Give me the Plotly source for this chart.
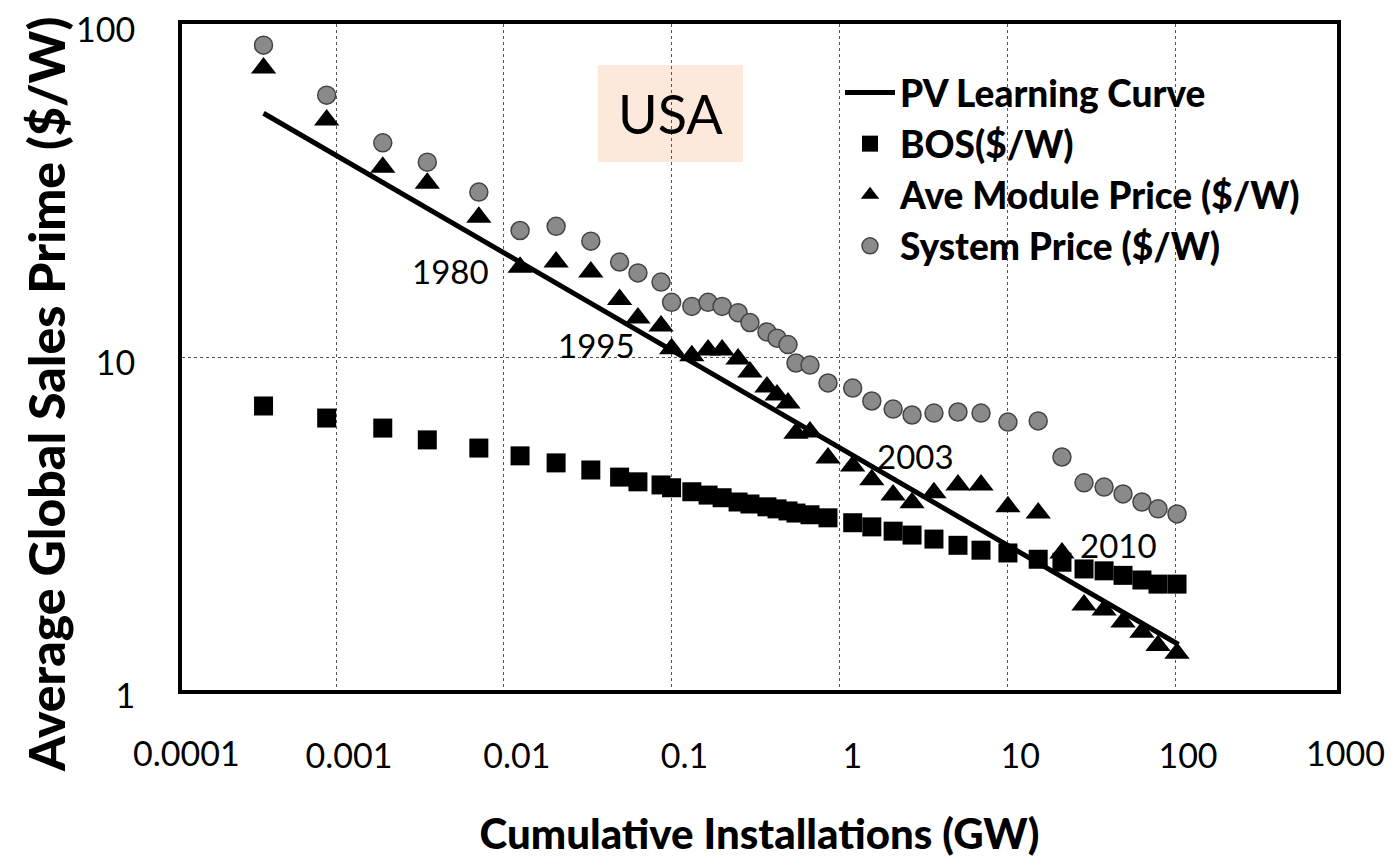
import math
import plotly.graph_objects as go

# ---------------- data ----------------
installations_gw = [0.00037, 0.00088, 0.0019, 0.0035, 0.0071, 0.0125, 0.0205, 0.033, 0.049, 0.063,
                    0.0865, 0.1, 0.132, 0.165, 0.2, 0.249, 0.293, 0.37, 0.425, 0.494,
                    0.551, 0.668, 0.855, 1.2, 1.56, 2.09, 2.71, 3.66, 5.09, 6.98,
                    10.1, 15.3, 21.2, 28.7, 37.8, 49.0, 63.5, 79.2, 102.8]

system_price = [86.5, 61.2, 44.0, 38.5, 31.3, 24.0, 24.7, 22.3, 19.3, 17.9,
                16.8, 14.6, 14.2, 14.6, 14.2, 13.6, 12.7, 11.9, 11.4, 10.9,
                9.6, 9.46, 8.36, 8.07, 7.38, 6.98, 6.70, 6.79, 6.84, 6.79,
                6.38, 6.43, 5.01, 4.19, 4.07, 3.88, 3.67, 3.50, 3.38]

module_price = [73.8, 51.5, 37.2, 33.3, 26.3, 18.6, 19.3, 18.0, 14.9, 13.1,
                12.4, 10.6, 10.1, 10.5, 10.5, 9.86, 9.02, 8.13, 7.69, 7.28,
                5.91, 5.96, 4.98, 4.71, 4.28, 3.85, 3.65, 3.91, 4.13, 4.13,
                3.55, 3.40, 2.58, 1.80, 1.74, 1.60, 1.49, 1.36, 1.29]

bos_price = [7.13, 6.56, 6.12, 5.64, 5.33, 5.05, 4.81, 4.58, 4.36, 4.22,
             4.13, 4.05, 3.94, 3.85, 3.78, 3.67, 3.62, 3.55, 3.50, 3.45,
             3.40, 3.36, 3.29, 3.18, 3.09, 3.00, 2.92, 2.84, 2.72, 2.63,
             2.58, 2.47, 2.42, 2.31, 2.28, 2.21, 2.14, 2.08, 2.08]

learning_curve_x = [0.00037, 105]
learning_curve_y = [54.0, 1.37]

year_labels = ["1980", "1995", "2003", "2010"]
year_label_x = [0.0048, 0.0359, 2.86, 46.3]
year_label_y = [18.1, 10.9, 5.05, 2.72]

x_tick_vals = [0.001, 0.01, 0.1, 1, 10, 100]
x_tick_text = ["0.001", "0.01", "0.1", "1", "10", "100"]
y_tick_vals = [1, 10, 100]
y_tick_text = ["1", "10", "100"]

# ---------------- figure ----------------
# the page body adds an 8px offset, so the figure is 8px smaller than the window
OFF = 8
W, H = 1393 - OFF, 858 - OFF
L, R, T, B = 182, 1337, 24, 690          # plot area in window pixels
PW, PH = R - L, B - T
TICK_FONT = dict(family="Lato", size=34, color="black")
BOLD = "Lato Black, Lato"


def px_x(px):
    return (px - L) / PW


def px_y(py):
    return (B - py) / PH


fig = go.Figure()

fig.add_trace(go.Scatter(
    x=installations_gw, y=bos_price, mode="markers", name="BOS($/W)",
    legendgroup="b", legendrank=2,
    marker=dict(symbol="square", size=19, color="black", line=dict(width=0)),
))
fig.add_trace(go.Scatter(
    x=installations_gw, y=module_price, mode="markers", name="Ave Module Price ($/W)",
    legendgroup="c", legendrank=3,
    marker=dict(symbol="triangle-up", size=22, color="black", line=dict(width=0)),
))
fig.add_trace(go.Scatter(
    x=installations_gw, y=system_price, mode="markers", name="System Price ($/W)",
    legendgroup="d", legendrank=4,
    marker=dict(symbol="circle", size=18, color="#8a8a8a", line=dict(width=1.5, color="#444444")),
))
fig.add_trace(go.Scatter(
    x=learning_curve_x, y=learning_curve_y, mode="lines", name="PV Learning Curve",
    legendgroup="a", legendrank=1,
    line=dict(color="black", width=5),
))

# year labels
for txt, xv, yv in zip(year_labels, year_label_x, year_label_y):
    fig.add_annotation(x=math.log10(xv), y=math.log10(yv), xref="x", yref="y",
                       text=txt, showarrow=False, xanchor="center", yanchor="middle",
                       font=dict(family="Lato", size=33, color="black"))

# USA box
fig.add_shape(type="rect", xref="paper", yref="paper",
              x0=px_x(598), x1=px_x(743), y0=px_y(162), y1=px_y(65),
              fillcolor="#fde9dc", line=dict(width=0), layer="below")
fig.add_annotation(xref="paper", yref="paper", x=px_x(670), y=px_y(114),
                   xanchor="center", yanchor="middle",
                   text="USA", showarrow=False,
                   font=dict(family="Lato", size=54, color="black"))

# end tick labels that sit on the frame edges
for txt, px in (("0.0001", 186), ("1000", 1345)):
    fig.add_annotation(xref="paper", yref="paper", x=px_x(px), y=px_y(752),
                       text=txt, showarrow=False, xanchor="center", yanchor="middle",
                       font=TICK_FONT)

# y-axis title
fig.add_annotation(xref="paper", yref="paper", x=px_x(46), y=px_y(395),
                   xanchor="center", yanchor="middle", textangle=-90,
                   text="Average Global Sales Prime ($/W)", showarrow=False,
                   font=dict(family=BOLD, size=50, color="black"))

x_lo = (L - 336) / 167.8 - 3
x_hi = (R - 336) / 167.8 - 3

fig.update_layout(
    width=W, height=H,
    margin=dict(l=L - OFF, r=W - (R - OFF), t=T - OFF, b=H - (B - OFF), autoexpand=False),
    paper_bgcolor="white", plot_bgcolor="white",
    showlegend=True,
    legend=dict(
        x=px_x(840), y=px_y(62), xanchor="left", yanchor="top",
        bgcolor="rgba(0,0,0,0)", borderwidth=0,
        font=dict(family=BOLD, size=37, color="black"),
        traceorder="grouped", tracegroupgap=0, itemwidth=50,
    ),
    xaxis=dict(
        type="log", range=[x_lo, x_hi],
        tickvals=x_tick_vals, ticktext=x_tick_text,
        tickfont=TICK_FONT, ticks="", ticklabelstandoff=33, ticklabelshift=13,
        showgrid=True, gridcolor="#555555", gridwidth=1, griddash="dot",
        showline=True, linecolor="black", linewidth=4, mirror=True,
        zeroline=False,
        title=dict(text="Cumulative Installations (GW)", standoff=54,
                   font=dict(family=BOLD, size=42, color="black")),
    ),
    yaxis=dict(
        type="log", range=[0, 2.0005],
        tickvals=y_tick_vals, ticktext=y_tick_text,
        tickfont=TICK_FONT, ticks="", ticklabelstandoff=36, ticklabelshift=6,
        ticklabeloverflow="allow",
        showgrid=True, gridcolor="#555555", gridwidth=1, griddash="dot",
        showline=True, linecolor="black", linewidth=4, mirror=True,
        zeroline=False,
    ),
)

fig.write_html("out.html")
